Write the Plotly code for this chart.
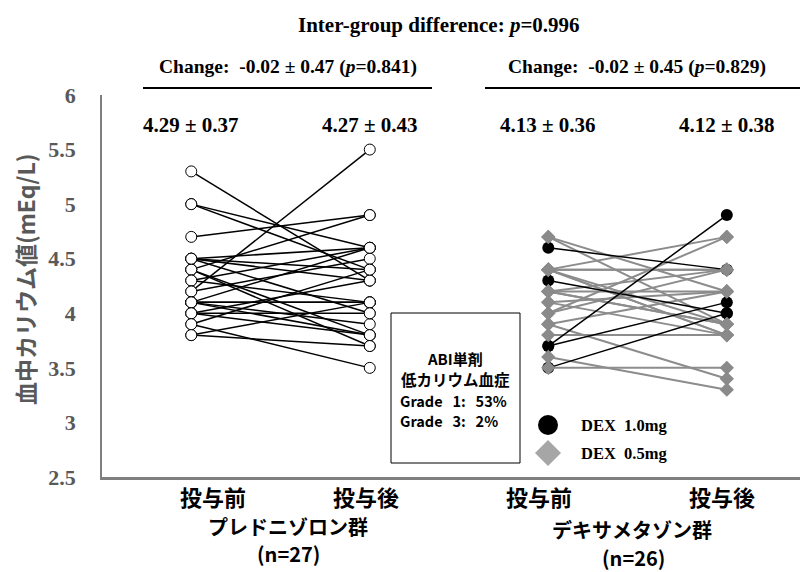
import plotly.graph_objects as go

# ---------------- data ----------------
y_ticks = [2.5, 3, 3.5, 4, 4.5, 5, 5.5, 6]
y_tick_labels = ["2.5", "3", "3.5", "4", "4.5", "5", "5.5", "6"]
x_positions = [1, 2, 3, 4]
x_labels = ["投与前", "投与後", "投与前", "投与後"]
group_names = ["プレドニゾロン群", "デキサメタゾン群"]
group_sizes = ["(n=27)", "(n=26)"]
mean_labels = ["4.29 ± 0.37", "4.27 ± 0.43", "4.13 ± 0.36", "4.12 ± 0.38"]
change_labels = ["Change:\u00a0 -0.02 ± 0.47 (<i>p</i>=0.841)",
                 "Change:\u00a0 -0.02 ± 0.45 (<i>p</i>=0.829)"]
title_text = "Inter-group difference: <i>p</i>=0.996"
box_lines = ["ABI単剤", "低カリウム血症", "Grade\u00a0\u00a0 1:\u00a0\u00a0 53%", "Grade\u00a0\u00a0 3:\u00a0\u00a0 2%"]
legend_names = ["DEX\u00a0 1.0mg", "DEX\u00a0 0.5mg"]

# prednisolone group (n=27)
pred_pre = [5.3, 5.0, 5.0, 4.7, 4.5, 4.5, 4.5, 4.4, 4.4, 4.4, 4.3, 4.3, 4.2, 4.2,
            4.1, 4.1, 4.1, 4.1, 4.1, 4.0, 4.0, 4.0, 3.9, 3.9, 3.8, 3.8, 4.5]
pred_post = [4.3, 4.6, 4.4, 4.9, 4.6, 4.4, 4.3, 4.9, 3.8, 3.7, 4.6, 4.1, 5.5, 4.5,
             4.6, 4.1, 4.1, 3.8, 3.9, 4.3, 4.0, 3.8, 4.4, 3.5, 3.7, 4.1, 4.0]
# dexamethasone group: 1.0 mg (n=5)
dex10_pre = [4.6, 4.3, 3.7, 3.7, 3.5]
dex10_post = [4.4, 4.0, 4.9, 4.1, 4.0]
# dexamethasone group: 0.5 mg (n=21)
dex05_pre = [4.7, 4.7, 4.4, 4.4, 4.4, 4.2, 4.2, 4.1, 4.4, 3.8, 4.0, 4.2, 3.9, 3.9,
             4.0, 4.2, 3.6, 4.4, 3.5, 4.4, 4.1]
dex05_post = [4.2, 3.9, 4.4, 4.7, 3.8, 4.4, 3.9, 4.2, 3.9, 3.8, 4.4, 4.2, 4.2, 3.4,
              4.7, 3.9, 3.3, 4.4, 3.5, 3.8, 3.8]

# ---------------- layout helpers ----------------
W, H = 803, 572
L, R, T, B = 102, 800, 95, 477


def px(x):
    return (x - L) / (R - L)


def py(y):
    return (B - y) / (B - T)


def seg(pre, post, x0, x1):
    xs, ys = [], []
    for a, b in zip(pre, post):
        xs += [x0, x1, None]
        ys += [a, b, None]
    return xs, ys


SERIF = "Liberation Serif"
SANS = "Noto Sans CJK JP"
GRAY = "#8c8c8c"

fig = go.Figure()

# lines
x, y = seg(pred_pre, pred_post, x_positions[0], x_positions[1])
fig.add_trace(go.Scatter(x=x, y=y, mode="lines", line=dict(color="black", width=1.5),
                         hoverinfo="skip", showlegend=False))
x, y = seg(dex05_pre, dex05_post, x_positions[2], x_positions[3])
fig.add_trace(go.Scatter(x=x, y=y, mode="lines", line=dict(color=GRAY, width=2),
                         hoverinfo="skip", showlegend=False))
x, y = seg(dex10_pre, dex10_post, x_positions[2], x_positions[3])
fig.add_trace(go.Scatter(x=x, y=y, mode="lines", line=dict(color="black", width=1.5),
                         hoverinfo="skip", showlegend=False))

# markers
fig.add_trace(go.Scatter(
    x=[x_positions[0]] * len(pred_pre) + [x_positions[1]] * len(pred_post),
    y=pred_pre + pred_post, mode="markers",
    marker=dict(symbol="circle", size=11, color="white", line=dict(color="black", width=1)),
    showlegend=False))
fig.add_trace(go.Scatter(
    x=[x_positions[2]] * len(dex10_pre) + [x_positions[3]] * len(dex10_post),
    y=dex10_pre + dex10_post, mode="markers",
    marker=dict(symbol="circle", size=12, color="black", line=dict(color="black", width=0)),
    showlegend=False))
fig.add_trace(go.Scatter(
    x=[x_positions[2]] * len(dex05_pre) + [x_positions[3]] * len(dex05_post),
    y=dex05_pre + dex05_post, mode="markers",
    marker=dict(symbol="diamond", size=11, color="#8a8a8a", line=dict(color="#8a8a8a", width=0)),
    showlegend=False))

ann = []


def add_text(cx, cy, text, family, size, color="black", xanchor="center", angle=0):
    ann.append(dict(x=px(cx), y=py(cy), xref="paper", yref="paper", text=text,
                    showarrow=False, xanchor=xanchor, yanchor="middle", textangle=angle,
                    font=dict(family=family, size=size, color=color, weight="bold")))


# y axis title
add_text(25, 280, "血中カリウム値(mEq/L)", SANS, 23, "#595959", angle=-90)
# x labels
for cx, t in zip([213, 366, 539, 722], x_labels):
    add_text(cx, 496, t, SANS, 22)
for cx, cy, t in zip([288, 632], [526, 529], group_names):
    add_text(cx, cy, t, SANS, 20)
for cx, cy, t in zip([288, 633], [553, 557], group_sizes):
    add_text(cx, cy, t, SANS, 20)
# means
for xv, t in zip(x_positions, mean_labels):
    ann.append(dict(x=xv, y=py(125), xref="x", yref="paper", text=t, showarrow=False,
                    xanchor="center", yanchor="middle",
                    font=dict(family=SERIF, size=21, color="black", weight="bold")))
# change labels
for cx, t in zip([288, 637], change_labels):
    add_text(cx, 67, t, SERIF, 19.5)
add_text(439, 25, title_text, SERIF, 21)
# box text
add_text(455, 358, box_lines[0], SANS, 15)
add_text(455, 379, box_lines[1], SANS, 15.5)
add_text(398, 400, box_lines[2], SANS, 14.5, xanchor="left")
add_text(398, 420, box_lines[3], SANS, 14.5, xanchor="left")
# legend text
for cy, t in zip([425, 453], legend_names):
    add_text(579, cy, t, SERIF, 16.5, xanchor="left")

# legend markers
fig.add_trace(go.Scatter(x=[px(548)], y=[py(425)], xaxis="x2", yaxis="y2", mode="markers",
                         marker=dict(symbol="circle", size=20, color="black"), showlegend=False))
fig.add_trace(go.Scatter(x=[px(548)], y=[py(453)], xaxis="x2", yaxis="y2", mode="markers",
                         marker=dict(symbol="diamond", size=20, color="#a6a6a6"), showlegend=False))

shapes = [
    dict(type="line", xref="paper", yref="paper", x0=px(143), x1=px(432), y0=py(88), y1=py(88),
         line=dict(color="black", width=2)),
    dict(type="line", xref="paper", yref="paper", x0=px(485), x1=px(800), y0=py(88), y1=py(88),
         line=dict(color="black", width=2)),
    dict(type="rect", xref="paper", yref="paper", x0=px(391), x1=px(520), y0=py(313), y1=py(463),
         line=dict(color="black", width=1), fillcolor="white", layer="below"),
]

fig.update_layout(
    width=W, height=H, margin=dict(l=L, r=W - R, t=T, b=H - B),
    paper_bgcolor="white", plot_bgcolor="rgba(0,0,0,0)",
    xaxis=dict(range=[0.5, 4.41], showgrid=False, zeroline=False, showticklabels=False,
               showline=True, linecolor="#7f7f7f", linewidth=2.5, ticks=""),
    yaxis=dict(range=[2.5, 6], showgrid=False, zeroline=False, tickvals=y_ticks,
               ticktext=y_tick_labels, showline=True, linecolor="#7f7f7f", linewidth=1.5,
               ticks="", ticklabelstandoff=20,
               tickfont=dict(family=SERIF, size=22, color="#595959", weight="bold")),
    xaxis2=dict(range=[0, 1], visible=False, overlaying="x"),
    yaxis2=dict(range=[0, 1], visible=False, overlaying="y"),
    annotations=ann, shapes=shapes, showlegend=False,
)

fig.write_html("out.html", config={"displayModeBar": False},
               post_script="document.body.style.margin='0';")
